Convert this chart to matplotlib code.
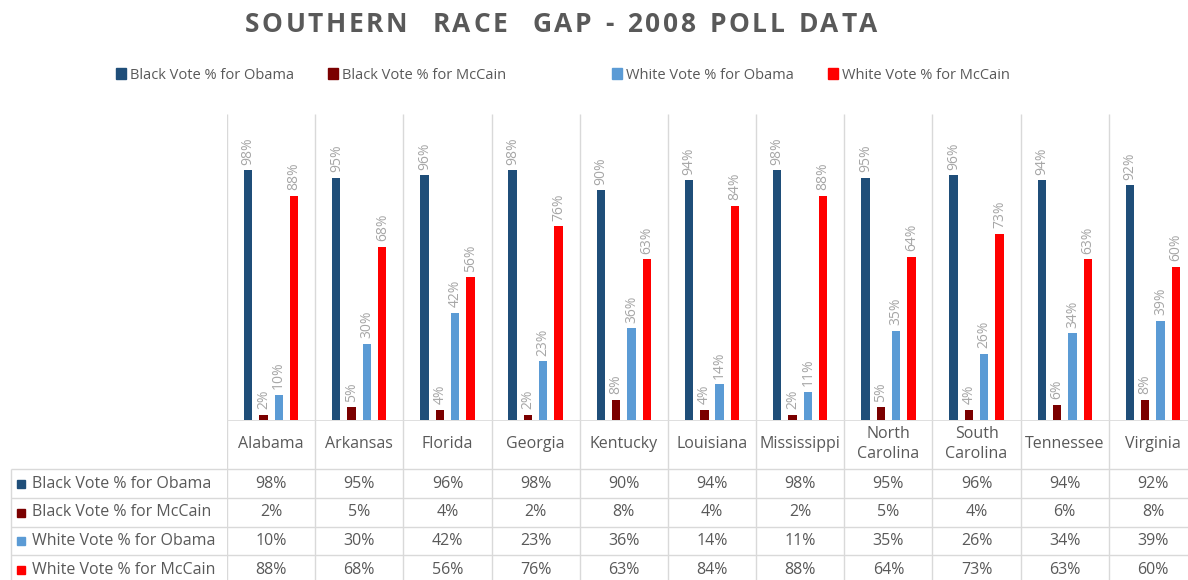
import matplotlib.pyplot as plt
import numpy as np
from matplotlib.patches import Patch, Rectangle

states = ["Alabama", "Arkansas", "Florida", "Georgia", "Kentucky", "Louisiana",
          "Mississippi", "North\nCarolina", "South\nCarolina", "Tennessee", "Virginia"]
series_names = ["Black Vote % for Obama", "Black Vote % for McCain",
                "White Vote % for Obama", "White Vote % for McCain"]
black_obama = [98, 95, 96, 98, 90, 94, 98, 95, 96, 94, 92]
black_mccain = [2, 5, 4, 2, 8, 4, 2, 5, 4, 6, 8]
white_obama = [10, 30, 42, 23, 36, 14, 11, 35, 26, 34, 39]
white_mccain = [88, 68, 56, 76, 63, 84, 88, 64, 73, 63, 60]
colors = ["#1f4e79", "#7b0000", "#5b9bd5", "#ff0000"]
title = "SOUTHERN  RACE  GAP - 2008 POLL DATA"

plt.rcParams["font.family"] = ["Open Sans", "DejaVu Sans"]
TEXT = "#595959"
GRID = "#d9d9d9"
W, H = 1188, 580

fig = plt.figure(figsize=(W / 100, H / 100), dpi=100)


def px_axes(x0, x1, y0, y1):
    return fig.add_axes([x0 / W, (H - y1) / H, (x1 - x0) / W, (y1 - y0) / H])


def spaced_text(s, cx, cy, spacing, **kw):
    # excel title uses extra character spacing, place letters one by one
    r = fig.canvas.get_renderer()
    parts = [fig.text(0, cy / H, ch, va="center", **kw) for ch in s]
    widths = []
    for ch, t in zip(s, parts):
        if ch == " ":
            t.set_text("n")
            widths.append(t.get_window_extent(r).width * 0.5)
            t.set_text("")
        else:
            widths.append(t.get_window_extent(r).width)
    total = sum(widths) + spacing * (len(s) - 1)
    xpos = cx - total / 2
    for t, w in zip(parts, widths):
        t.set_x(xpos / W)
        xpos += w + spacing


# plot area spans 11 category columns, cut off at the right like the original
left, right = 227, 1197
cat_w = (right - left) / len(states)
ax = px_axes(left, right, 114, 420)
tab = px_axes(left, right, 420, 584)

values = [black_obama, black_mccain, white_obama, white_mccain]
x = np.arange(len(states))
offsets = (np.arange(4) - 1.5) * 0.174
for vals, off, col in zip(values, offsets, colors):
    bars = ax.bar(x + off, vals, width=0.095, color=col, zorder=3)
    for b, v in zip(bars, vals):
        ax.annotate(f"{v}%", (b.get_x() + b.get_width() / 2, v), xytext=(0, 4),
                    textcoords="offset points", rotation=90, ha="center",
                    va="bottom", fontsize=10, color="#a6a6a6")

ax.set_xlim(-0.5, len(states) - 0.5)
ax.set_ylim(0, 120)
ax.vlines(np.arange(len(states) + 1) - 0.5, 0, 120, color=GRID, lw=1, zorder=1)
ax.axis("off")

# data table under the chart, y in pixels
tab.set_xlim(-0.5, len(states) - 0.5)
tab.set_ylim(584, 420)
tab.axis("off")
label_left = -0.5 - (left - 11) / cat_w
rows = [469, 498, 527, 555, 584]
tab.vlines(np.arange(len(states) + 1) - 0.5, 420, 584, color=GRID, lw=1)
tab.vlines(label_left, 469, 584, color=GRID, lw=1, clip_on=False)
tab.hlines(420, -0.5, len(states) - 0.5, color=GRID, lw=1.2)
tab.hlines(rows, label_left, len(states) - 0.5, color=GRID, lw=1, clip_on=False)

for i, s in enumerate(states):
    tab.text(i, 444, s, ha="center", va="center", fontsize=11.5, color=TEXT,
             linespacing=1.25)

for r, (name, vals, col) in enumerate(zip(series_names, values, colors)):
    yc = (rows[r] + rows[r + 1]) / 2
    tab.add_patch(Rectangle((label_left + 6 / cat_w, yc - 4), 8 / cat_w, 8,
                            color=col, clip_on=False))
    tab.text(label_left + 21 / cat_w, yc, name, ha="left", va="center",
             fontsize=11.5, color=TEXT, clip_on=False)
    for i, v in enumerate(vals):
        tab.text(i, yc, f"{v}%", ha="center", va="center", fontsize=11.5,
                 color=TEXT)

spaced_text(title, 561, H - 25, 2.6, fontsize=19, fontweight="bold", color=TEXT)

handles = [Patch(color=c, label=n) for c, n in zip(colors, series_names)]
for part, cx in ((handles[:2], 311), (handles[2:], 811)):
    fig.legend(handles=part, loc="center", bbox_to_anchor=(cx / W, 1 - 75 / H),
               ncol=2, frameon=False, fontsize=10.5, handlelength=0.7,
               handleheight=0.7, handletextpad=0.3, columnspacing=2.3,
               labelcolor=TEXT)

fig.savefig("out.png", dpi=100)
